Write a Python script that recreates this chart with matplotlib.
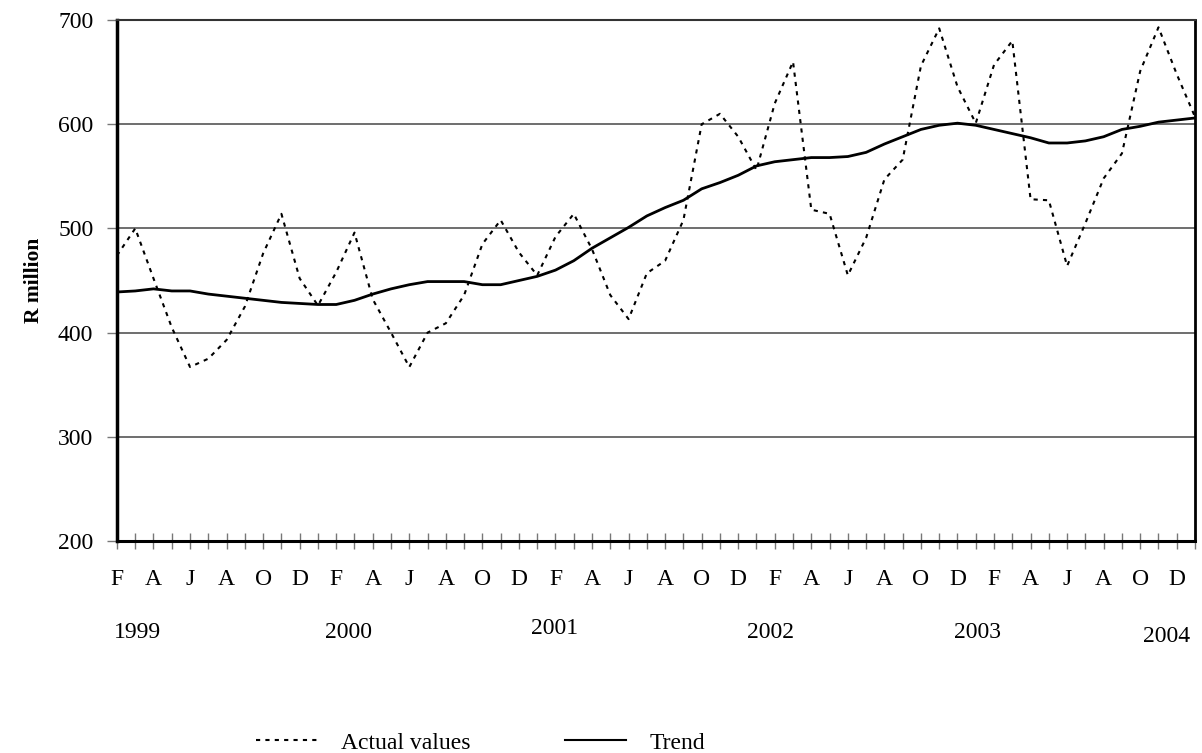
import matplotlib
matplotlib.use("Agg")
import matplotlib.pyplot as plt
from matplotlib.lines import Line2D

# monthly data, Feb 1999 .. Jan 2004
actual = [
    474, 500, 452, 405, 367, 375, 393, 425, 476, 514, 452,
    426, 458, 496, 432, 400, 367, 400, 409, 436, 485, 508, 477,
    455, 492, 514, 480, 436, 413, 457, 469, 508, 600, 610, 588,
    556, 620, 660, 518, 514, 455, 491, 547, 566, 656, 692, 636,
    601, 657, 680, 528, 527, 464, 505, 548, 572, 651, 693, 648,
    607,
]
trend = [
    439, 440, 442, 440, 440, 437, 435, 433, 431, 429, 428,
    427, 427, 431, 437, 442, 446, 449, 449, 449, 446, 446, 450,
    454, 460, 469, 481, 491, 501, 512, 520, 527, 538, 544, 551,
    560, 564, 566, 568, 568, 569, 573, 581, 588, 595, 599, 601,
    599, 595, 591, 587, 582, 582, 584, 588, 595, 598, 602, 604,
    606,
]
month_letters = ["F", "A", "J", "A", "O", "D"]
years = ["1999", "2000", "2001", "2002", "2003", "2004"]
year_pos = [1.15, 12.65, 23.97, 35.74, 47.07, 57.42]
year_y = [-0.175, -0.175, -0.168, -0.175, -0.175, -0.183]
y_ticks = [200, 300, 400, 500, 600, 700]

plt.rcParams["font.family"] = ["Liberation Serif", "DejaVu Serif"]

fig = plt.figure(figsize=(12.02, 7.53), dpi=100)
ax = fig.add_axes([0.0973, 0.2815, 0.8969, 0.6919])

months = list(range(len(actual)))
ax.plot(months, actual, color="black", lw=1.5, ls=(0, (2, 2.5)))
ax.plot(months, trend, color="black", lw=2)

ax.set_xlim(0, len(actual) - 1)
ax.set_ylim(200, 700)
ax.set_yticks(y_ticks)
ax.set_yticklabels([str(v) for v in y_ticks], fontsize=17)
for v in y_ticks[1:-1]:
    ax.axhline(v, color="#555555", lw=1.2, zorder=0)

# every month gets a tick, every second one a letter
ax.set_xticks(months)
ax.set_xticklabels([month_letters[(i // 2) % 6] if i % 2 == 0 else "" for i in months],
                   fontsize=17)
ax.tick_params(axis="x", direction="inout", length=12, width=1, color="#777777", pad=14)
ax.tick_params(axis="y", direction="out", length=7, width=1, color="#777777", pad=10)

for yr, xp, yp in zip(years, year_pos, year_y):
    ax.text(xp, yp, yr, transform=ax.get_xaxis_transform(), ha="center", va="center",
            fontsize=17)

ax.set_ylabel("R million", fontsize=15.5, fontweight="bold", labelpad=10)

ax.spines["left"].set_linewidth(2.5)
ax.spines["bottom"].set_linewidth(2.2)
ax.spines["right"].set_linewidth(2)
ax.spines["top"].set_linewidth(1.5)
ax.spines["top"].set_color("#333333")

handles = [
    Line2D([], [], color="black", lw=1.5, ls=(0, (2, 2.5))),
    Line2D([], [], color="black", lw=1.5),
]
fig.legend(handles, ["Actual values", "Trend"], loc="center",
           bbox_to_anchor=(0.400, 0.0134), ncol=2, frameon=False, fontsize=17,
           handlelength=2.6, columnspacing=4.0, handletextpad=1.0)

fig.savefig("out.png", dpi=100)
